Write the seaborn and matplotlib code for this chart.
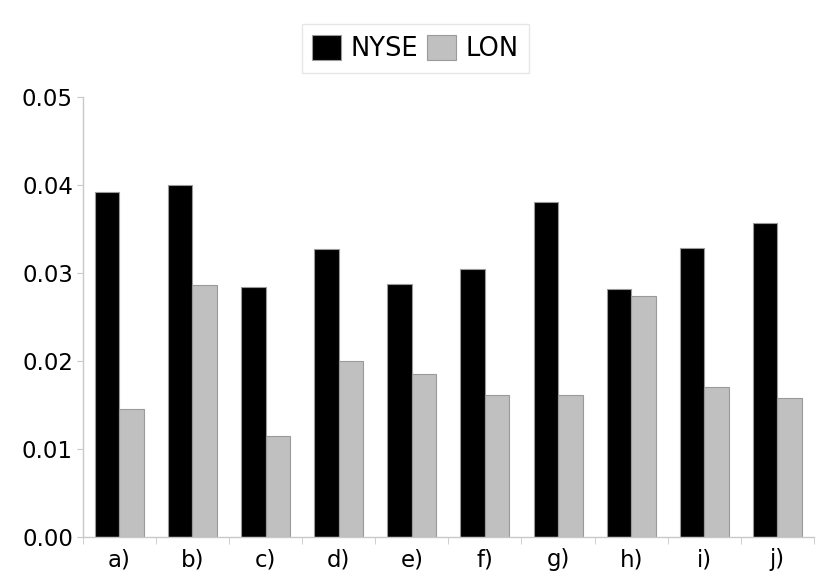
import matplotlib
matplotlib.use("Agg")
import matplotlib.pyplot as plt
import seaborn as sns
import pandas as pd
import numpy as np
from matplotlib.ticker import FixedLocator

categories = ["a)", "b)", "c)", "d)", "e)", "f)", "g)", "h)", "i)", "j)"]
nyse = [0.0392, 0.0400, 0.0284, 0.0327, 0.0288, 0.0305, 0.0381, 0.0282, 0.0328, 0.0357]
lon = [0.0146, 0.0286, 0.0115, 0.0200, 0.0185, 0.0161, 0.0161, 0.0274, 0.0171, 0.0158]
series = ["NYSE", "LON"]
yticks = [0.00, 0.01, 0.02, 0.03, 0.04, 0.05]

df = pd.DataFrame({
    "cat": categories * 2,
    "val": nyse + lon,
    "series": [series[0]] * len(categories) + [series[1]] * len(categories),
})

sns.set_style("white")
plt.rcParams["font.family"] = ["DejaVu Sans"]
plt.rcParams["text.color"] = "black"
plt.rcParams["xtick.color"] = "black"
plt.rcParams["ytick.color"] = "black"

fig = plt.figure(figsize=(8.31, 5.88), dpi=100)
ax = fig.add_axes([0.0995, 0.0867, 0.88, 0.748])

sns.barplot(data=df, x="cat", y="val", hue="series", order=categories,
            hue_order=series, palette=["#000000", "#c0c0c0"], width=0.67,
            gap=0, edgecolor="#9a9a9a", linewidth=0.8, ax=ax, legend=True)

ax.set_ylim(0, 0.05)
ax.set_xlim(-0.5, len(categories) - 0.5)
ax.set_yticks(yticks)
ax.set_yticklabels([f"{t:.2f}" for t in yticks])
ax.set_xlabel("")
ax.set_ylabel("")

for s in ["top", "right"]:
    ax.spines[s].set_visible(False)
for s in ["left", "bottom"]:
    ax.spines[s].set_color("#c8c8c8")
    ax.spines[s].set_linewidth(1.0)

ax.tick_params(axis="y", which="major", length=4, color="#c8c8c8", labelcolor="black",
               labelsize=16.5, pad=3, left=True)
ax.tick_params(axis="x", which="major", length=0, labelsize=16.5, labelcolor="black", pad=8)
ax.xaxis.set_minor_locator(FixedLocator(np.arange(-0.5, len(categories), 1.0)))
ax.tick_params(axis="x", which="minor", length=5, color="#c8c8c8", bottom=True)

handles, labels = ax.get_legend_handles_labels()
ax.get_legend().remove()
leg = fig.legend(handles, labels, loc="upper center", bbox_to_anchor=(0.5, 0.959),
                 ncol=2, fontsize=18.5, frameon=True, fancybox=False,
                 handlelength=1.1, handleheight=1.15, handletextpad=0.38,
                 columnspacing=0.36, borderpad=0.42, borderaxespad=0.0,
                 edgecolor="#e0e0e0")
leg.get_frame().set_linewidth(1.0)

fig.savefig("out.png", dpi=100)
